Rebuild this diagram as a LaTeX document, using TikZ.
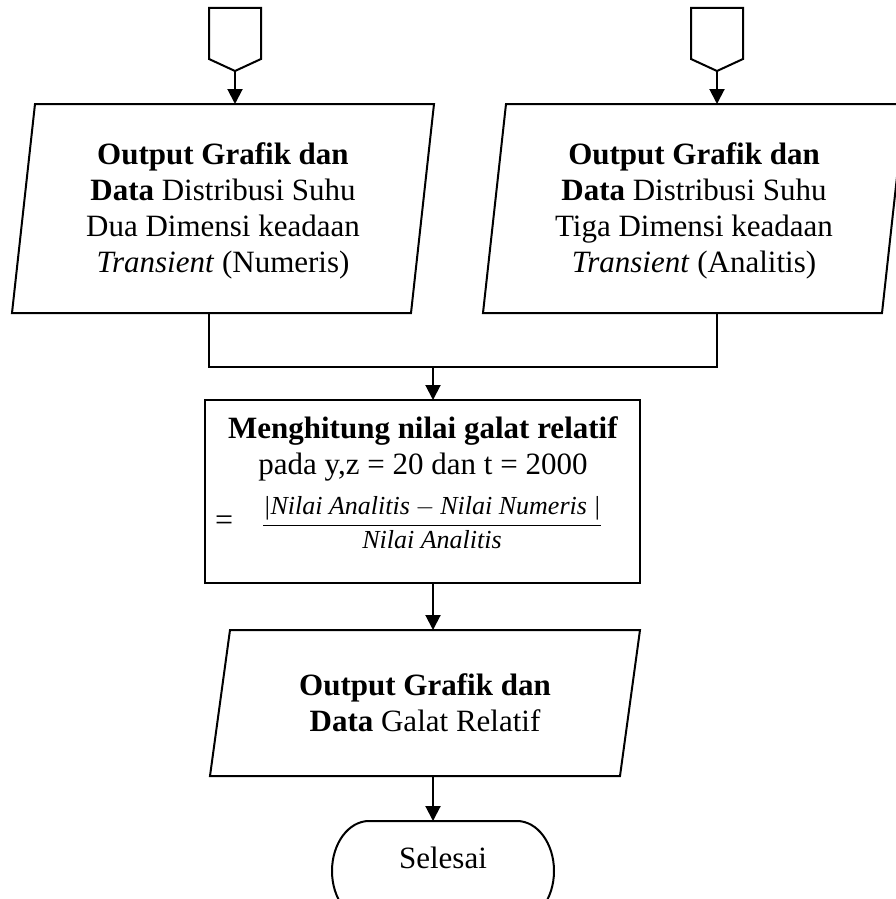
\documentclass[tikz,border=0pt]{standalone}
\usepackage{amsmath}
\usepackage{fontspec}
\setmainfont{Liberation Serif}
\usetikzlibrary{arrows.meta}
\begin{document}
\begin{tikzpicture}[x=1pt,y=-1pt,line width=2pt,line join=miter,
  >={Triangle[length=15pt,width=15pt]},
  txt/.style={align=center,inner sep=0pt,font=\fontsize{31}{36}\selectfont},
  frm/.style={inner sep=0pt,font=\fontsize{26}{30}\selectfont}]
\useasboundingbox (0,0) rectangle (896,899);

% off-page connectors on top
\draw (209,8) -- (261,8) -- (261,59) -- (235,71) -- (209,59) -- cycle;
\draw (691,8) -- (743,8) -- (743,59) -- (717,71) -- (691,59) -- cycle;
\coordinate (lptip) at (235,71);
\coordinate (rptip) at (717,71);

% two output parallelograms
\draw (35,104) -- (434,104) -- (411,313) -- (12,313) -- cycle;
\draw (506,104) -- (905,104) -- (882,313) -- (483,313) -- cycle;
\coordinate (ltop) at (235,104);
\coordinate (rtop) at (717,104);
\coordinate (lbot) at (209,313);
\coordinate (rbot) at (717,313);
\node[txt] (ltext) at (223,211) {\textbf{Output Grafik dan}\\\textbf{Data} Distribusi Suhu\\Dua Dimensi keadaan\\\textit{Transient} (Numeris)};
\node[txt] (rtext) at (694,211) {\textbf{Output Grafik dan}\\\textbf{Data} Distribusi Suhu\\Tiga Dimensi keadaan\\\textit{Transient} (Analitis)};

% process box
\draw (205,400) rectangle (640,583);
\coordinate (btop) at (433,400);
\coordinate (bbot) at (433,583);
\node[txt] (btext) at (423,449) {\textbf{Menghitung nilai galat relatif}\\pada y,z = 20 dan t = 2000};
\node[inner sep=0pt,font=\fontsize{32}{36}\selectfont,anchor=west] (beq) at (214,523) {=};
\node[frm] (bfrac) at (432,523) {$\dfrac{\textit{|Nilai Analitis} - \textit{Nilai Numeris |}}{\textit{Nilai Analitis}}$};

% result parallelogram
\draw (230,630) -- (640,630) -- (620,776) -- (210,776) -- cycle;
\coordinate (otop) at (433,630);
\coordinate (obot) at (433,776);
\node[txt] (otext) at (425,703) {\textbf{Output Grafik dan}\\\textbf{Data} Galat Relatif};

% terminal, running off the lower edge
\draw (369,821) -- (517,821)
  arc[start angle=-90,end angle=90,x radius=37,y radius=50] -- (369,921)
  arc[start angle=90,end angle=270,x radius=37,y radius=50] -- cycle;
\coordinate (ttop) at (433,821);
\node[txt] (ttext) at (443,858) {Selesai};

% connectors
\coordinate (jl) at (209,367);
\coordinate (jr) at (717,367);
\coordinate (jm) at (433,367);
\draw[->] (lptip) -- (ltop);
\draw[->] (rptip) -- (rtop);
\draw (lbot) -- (jl) -- (jr) -- (rbot);
\draw[->] (jm) -- (btop);
\draw[->] (bbot) -- (otop);
\draw[->] (obot) -- (ttop);
\end{tikzpicture}
\end{document}
